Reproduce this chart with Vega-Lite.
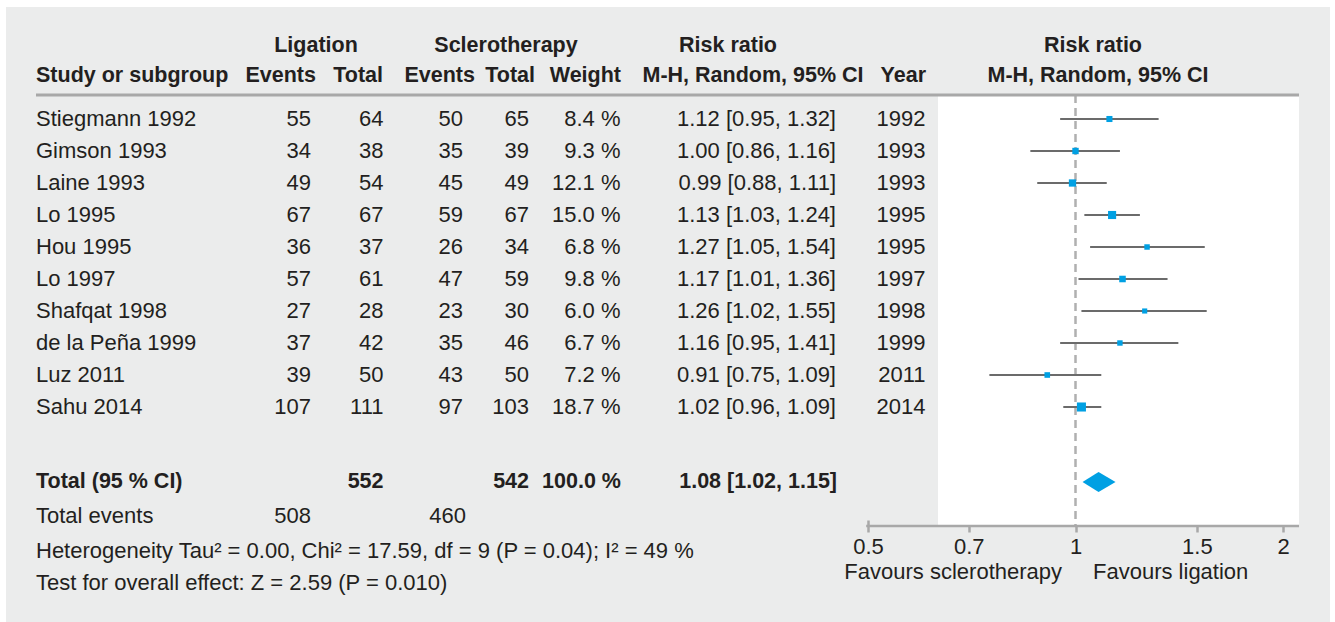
{
  "$schema": "https://vega.github.io/schema/vega-lite/v6.json",
  "width": 1324,
  "height": 615,
  "autosize": {"type": "none"},
  "padding": {"left": 6, "top": 7, "right": 5, "bottom": 0},
  "background": "#ffffff",
  "config": {
    "view": {"fill": "#ebecec", "stroke": null},
    "text": {"font": "Liberation Sans", "fontSize": 22, "color": "#231f20", "baseline": "middle"}
  },
  "datasets": {
    "studies": [
      {"study": "Stiegmann 1992", "le": 55, "lt": 64, "se": 50, "st": 65, "w": 8.4, "weight": "8.4 %", "rr": 1.12, "lo": 0.95, "hi": 1.32, "ci": "1.12 [0.95, 1.32]", "year": 1992},
      {"study": "Gimson 1993", "le": 34, "lt": 38, "se": 35, "st": 39, "w": 9.3, "weight": "9.3 %", "rr": 1.00, "lo": 0.86, "hi": 1.16, "ci": "1.00 [0.86, 1.16]", "year": 1993},
      {"study": "Laine 1993", "le": 49, "lt": 54, "se": 45, "st": 49, "w": 12.1, "weight": "12.1 %", "rr": 0.99, "lo": 0.88, "hi": 1.11, "ci": "0.99 [0.88, 1.11]", "year": 1993},
      {"study": "Lo 1995", "le": 67, "lt": 67, "se": 59, "st": 67, "w": 15.0, "weight": "15.0 %", "rr": 1.13, "lo": 1.03, "hi": 1.24, "ci": "1.13 [1.03, 1.24]", "year": 1995},
      {"study": "Hou 1995", "le": 36, "lt": 37, "se": 26, "st": 34, "w": 6.8, "weight": "6.8 %", "rr": 1.27, "lo": 1.05, "hi": 1.54, "ci": "1.27 [1.05, 1.54]", "year": 1995},
      {"study": "Lo 1997", "le": 57, "lt": 61, "se": 47, "st": 59, "w": 9.8, "weight": "9.8 %", "rr": 1.17, "lo": 1.01, "hi": 1.36, "ci": "1.17 [1.01, 1.36]", "year": 1997},
      {"study": "Shafqat 1998", "le": 27, "lt": 28, "se": 23, "st": 30, "w": 6.0, "weight": "6.0 %", "rr": 1.26, "lo": 1.02, "hi": 1.55, "ci": "1.26 [1.02, 1.55]", "year": 1998},
      {"study": "de la Peña 1999", "le": 37, "lt": 42, "se": 35, "st": 46, "w": 6.7, "weight": "6.7 %", "rr": 1.16, "lo": 0.95, "hi": 1.41, "ci": "1.16 [0.95, 1.41]", "year": 1999},
      {"study": "Luz 2011", "le": 39, "lt": 50, "se": 43, "st": 50, "w": 7.2, "weight": "7.2 %", "rr": 0.91, "lo": 0.75, "hi": 1.09, "ci": "0.91 [0.75, 1.09]", "year": 2011},
      {"study": "Sahu 2014", "le": 107, "lt": 111, "se": 97, "st": 103, "w": 18.7, "weight": "18.7 %", "rr": 1.02, "lo": 0.96, "hi": 1.09, "ci": "1.02 [0.96, 1.09]", "year": 2014}
    ],
    "pooled": [
      {"label": "Total (95 % CI)", "events": "Total events", "le": 508, "lt": 552, "se": 460, "st": 542, "weight": "100.0 %", "rr": 1.08, "lo": 1.02, "hi": 1.15, "ci": "1.08 [1.02, 1.15]"}
    ],
    "one": [{}]
  },
  "data": {"name": "studies"},
  "transform": [{"window": [{"op": "row_number", "as": "r"}]}],
  "resolve": {"scale": {"x": "independent"}},
  "layer": [
    {
      "layer": [
        {
          "data": {"name": "one"},
          "mark": {"type": "rect", "fill": "#ffffff"},
          "encoding": {
            "x": {"datum": 0.6317, "type": "quantitative", "scale": {"type": "log", "domain": [0.5, 2], "range": [862, 1277], "nice": false}},
            "x2": {"datum": 2.11},
            "y": {"datum": 0.25, "type": "quantitative", "scale": {"domain": [-2.5, 16.71875], "reverse": true, "nice": false, "zero": false}, "axis": null},
            "y2": {"datum": 13.71875}
          }
        },
        {
          "data": {"name": "one"},
          "mark": {"type": "rule", "color": "#b0b0b0", "strokeWidth": 2.5, "strokeDash": [8, 5]},
          "encoding": {
            "x": {"datum": 1, "type": "quantitative"},
            "y": {"datum": 0.25, "type": "quantitative", "axis": null},
            "y2": {"datum": 13.71875}
          }
        },
        {
          "data": {"name": "one"},
          "mark": {"type": "rule", "color": "#a8a8a8", "strokeWidth": 2.5},
          "encoding": {
            "x": {"datum": 0.497, "type": "quantitative"},
            "x2": {"datum": 2.11},
            "y": {"datum": 13.71875, "type": "quantitative", "axis": null}
          }
        },
        {
          "mark": {"type": "rule", "color": "#6b6b6b", "strokeWidth": 2},
          "encoding": {
            "x": {
              "field": "lo", "type": "quantitative",
              "axis": {
                "values": [0.5, 0.7, 1, 1.5, 2], "format": "~g", "domain": false, "grid": false,
                "tickColor": "#a8a8a8", "tickWidth": 2.5, "tickSize": 12, "offset": -102,
                "labelFont": "Liberation Sans", "labelFontSize": 22, "labelColor": "#231f20",
                "labelPadding": 4, "labelFlush": false, "labelOverlap": false, "title": null
              }
            },
            "x2": {"field": "hi"},
            "y": {"field": "r", "type": "quantitative", "axis": null}
          }
        },
        {
          "mark": {"type": "square", "color": "#00a0e3", "opacity": 1},
          "encoding": {
            "x": {"field": "rr", "type": "quantitative"},
            "y": {"field": "r", "type": "quantitative", "axis": null},
            "size": {"field": "w", "type": "quantitative", "scale": {"domain": [0, 18.7], "range": [0, 82]}, "legend": null}
          }
        },
        {
          "data": {"name": "pooled"},
          "mark": {"type": "point", "shape": "M-1.6,0L0,-1L1.7,0L0,1Z", "filled": true, "size": 400, "color": "#00a0e3", "opacity": 1, "strokeWidth": 0},
          "encoding": {
            "x": {"field": "rr", "type": "quantitative"},
            "y": {"datum": 12.34375, "type": "quantitative", "axis": null}
          }
        },
        {
          "data": {"name": "one"},
          "mark": {"type": "text", "align": "right"},
          "encoding": {
            "x": {"datum": 0.956, "type": "quantitative"},
            "y": {"datum": 15.15625, "type": "quantitative", "axis": null},
            "text": {"value": "Favours sclerotherapy"}
          }
        },
        {
          "data": {"name": "one"},
          "mark": {"type": "text", "align": "left"},
          "encoding": {
            "x": {"datum": 1.0603, "type": "quantitative"},
            "y": {"datum": 15.15625, "type": "quantitative", "axis": null},
            "text": {"value": "Favours ligation"}
          }
        }
      ]
    },
    {
      "layer": [
        {
          "data": {"name": "one"},
          "mark": {"type": "rule", "color": "#a8a8a8", "strokeWidth": 3},
          "encoding": {
            "x": {"datum": 30, "type": "quantitative", "scale": {"domain": [0, 1324], "nice": false, "zero": false}, "axis": null},
            "x2": {"datum": 1293},
            "y": {"datum": 0.25, "type": "quantitative", "axis": null}
          }
        },
        {"data": {"name": "one"}, "mark": {"type": "text", "align": "center", "fontWeight": "bold", "fontSize": 21.5},
         "encoding": {"x": {"datum": 310, "type": "quantitative", "axis": null}, "y": {"datum": -1.28125, "type": "quantitative", "axis": null}, "text": {"value": "Ligation"}}},
        {"data": {"name": "one"}, "mark": {"type": "text", "align": "center", "fontWeight": "bold", "fontSize": 21.5},
         "encoding": {"x": {"datum": 500, "type": "quantitative", "axis": null}, "y": {"datum": -1.28125, "type": "quantitative", "axis": null}, "text": {"value": "Sclerotherapy"}}},
        {"data": {"name": "one"}, "mark": {"type": "text", "align": "center", "fontWeight": "bold", "fontSize": 21.5},
         "encoding": {"x": {"datum": 722, "type": "quantitative", "axis": null}, "y": {"datum": -1.28125, "type": "quantitative", "axis": null}, "text": {"value": "Risk ratio"}}},
        {"data": {"name": "one"}, "mark": {"type": "text", "align": "center", "fontWeight": "bold", "fontSize": 21.5},
         "encoding": {"x": {"datum": 1087, "type": "quantitative", "axis": null}, "y": {"datum": -1.28125, "type": "quantitative", "axis": null}, "text": {"value": "Risk ratio"}}},
        {"data": {"name": "one"}, "mark": {"type": "text", "align": "left", "fontWeight": "bold", "fontSize": 21.5},
         "encoding": {"x": {"datum": 30, "type": "quantitative", "axis": null}, "y": {"datum": -0.34375, "type": "quantitative", "axis": null}, "text": {"value": "Study or subgroup"}}},
        {"data": {"name": "one"}, "mark": {"type": "text", "align": "right", "fontWeight": "bold", "fontSize": 21.5},
         "encoding": {"x": {"datum": 310, "type": "quantitative", "axis": null}, "y": {"datum": -0.34375, "type": "quantitative", "axis": null}, "text": {"value": "Events"}}},
        {"data": {"name": "one"}, "mark": {"type": "text", "align": "right", "fontWeight": "bold", "fontSize": 21.5},
         "encoding": {"x": {"datum": 377, "type": "quantitative", "axis": null}, "y": {"datum": -0.34375, "type": "quantitative", "axis": null}, "text": {"value": "Total"}}},
        {"data": {"name": "one"}, "mark": {"type": "text", "align": "right", "fontWeight": "bold", "fontSize": 21.5},
         "encoding": {"x": {"datum": 469, "type": "quantitative", "axis": null}, "y": {"datum": -0.34375, "type": "quantitative", "axis": null}, "text": {"value": "Events"}}},
        {"data": {"name": "one"}, "mark": {"type": "text", "align": "right", "fontWeight": "bold", "fontSize": 21.5},
         "encoding": {"x": {"datum": 529, "type": "quantitative", "axis": null}, "y": {"datum": -0.34375, "type": "quantitative", "axis": null}, "text": {"value": "Total"}}},
        {"data": {"name": "one"}, "mark": {"type": "text", "align": "right", "fontWeight": "bold", "fontSize": 21.5},
         "encoding": {"x": {"datum": 615, "type": "quantitative", "axis": null}, "y": {"datum": -0.34375, "type": "quantitative", "axis": null}, "text": {"value": "Weight"}}},
        {"data": {"name": "one"}, "mark": {"type": "text", "align": "center", "fontWeight": "bold", "fontSize": 21.5},
         "encoding": {"x": {"datum": 747, "type": "quantitative", "axis": null}, "y": {"datum": -0.34375, "type": "quantitative", "axis": null}, "text": {"value": "M-H, Random, 95% CI"}}},
        {"data": {"name": "one"}, "mark": {"type": "text", "align": "right", "fontWeight": "bold", "fontSize": 21.5},
         "encoding": {"x": {"datum": 920, "type": "quantitative", "axis": null}, "y": {"datum": -0.34375, "type": "quantitative", "axis": null}, "text": {"value": "Year"}}},
        {"data": {"name": "one"}, "mark": {"type": "text", "align": "center", "fontWeight": "bold", "fontSize": 21.5},
         "encoding": {"x": {"datum": 1092, "type": "quantitative", "axis": null}, "y": {"datum": -0.34375, "type": "quantitative", "axis": null}, "text": {"value": "M-H, Random, 95% CI"}}},
        {"mark": {"type": "text", "align": "left"},
         "encoding": {"x": {"datum": 30, "type": "quantitative", "axis": null}, "y": {"field": "r", "type": "quantitative", "axis": null}, "text": {"field": "study", "type": "nominal"}}},
        {"mark": {"type": "text", "align": "right"},
         "encoding": {"x": {"datum": 305, "type": "quantitative", "axis": null}, "y": {"field": "r", "type": "quantitative", "axis": null}, "text": {"field": "le", "type": "nominal"}}},
        {"mark": {"type": "text", "align": "right"},
         "encoding": {"x": {"datum": 377.5, "type": "quantitative", "axis": null}, "y": {"field": "r", "type": "quantitative", "axis": null}, "text": {"field": "lt", "type": "nominal"}}},
        {"mark": {"type": "text", "align": "right"},
         "encoding": {"x": {"datum": 457, "type": "quantitative", "axis": null}, "y": {"field": "r", "type": "quantitative", "axis": null}, "text": {"field": "se", "type": "nominal"}}},
        {"mark": {"type": "text", "align": "right"},
         "encoding": {"x": {"datum": 523, "type": "quantitative", "axis": null}, "y": {"field": "r", "type": "quantitative", "axis": null}, "text": {"field": "st", "type": "nominal"}}},
        {"mark": {"type": "text", "align": "right"},
         "encoding": {"x": {"datum": 614.5, "type": "quantitative", "axis": null}, "y": {"field": "r", "type": "quantitative", "axis": null}, "text": {"field": "weight", "type": "nominal"}}},
        {"mark": {"type": "text", "align": "right"},
         "encoding": {"x": {"datum": 830, "type": "quantitative", "axis": null}, "y": {"field": "r", "type": "quantitative", "axis": null}, "text": {"field": "ci", "type": "nominal"}}},
        {"mark": {"type": "text", "align": "right"},
         "encoding": {"x": {"datum": 919.5, "type": "quantitative", "axis": null}, "y": {"field": "r", "type": "quantitative", "axis": null}, "text": {"field": "year", "type": "nominal"}}},
        {"data": {"name": "pooled"}, "mark": {"type": "text", "align": "left", "fontWeight": "bold", "fontSize": 21.5},
         "encoding": {"x": {"datum": 30, "type": "quantitative", "axis": null}, "y": {"datum": 12.34375, "type": "quantitative", "axis": null}, "text": {"field": "label", "type": "nominal"}}},
        {"data": {"name": "pooled"}, "mark": {"type": "text", "align": "right", "fontWeight": "bold", "fontSize": 21.5},
         "encoding": {"x": {"datum": 377.5, "type": "quantitative", "axis": null}, "y": {"datum": 12.34375, "type": "quantitative", "axis": null}, "text": {"field": "lt", "type": "nominal"}}},
        {"data": {"name": "pooled"}, "mark": {"type": "text", "align": "right", "fontWeight": "bold", "fontSize": 21.5},
         "encoding": {"x": {"datum": 523, "type": "quantitative", "axis": null}, "y": {"datum": 12.34375, "type": "quantitative", "axis": null}, "text": {"field": "st", "type": "nominal"}}},
        {"data": {"name": "pooled"}, "mark": {"type": "text", "align": "right", "fontWeight": "bold", "fontSize": 21.5},
         "encoding": {"x": {"datum": 615, "type": "quantitative", "axis": null}, "y": {"datum": 12.34375, "type": "quantitative", "axis": null}, "text": {"field": "weight", "type": "nominal"}}},
        {"data": {"name": "pooled"}, "mark": {"type": "text", "align": "right", "fontWeight": "bold", "fontSize": 21.5},
         "encoding": {"x": {"datum": 831, "type": "quantitative", "axis": null}, "y": {"datum": 12.34375, "type": "quantitative", "axis": null}, "text": {"field": "ci", "type": "nominal"}}},
        {"data": {"name": "pooled"}, "mark": {"type": "text", "align": "left"},
         "encoding": {"x": {"datum": 30, "type": "quantitative", "axis": null}, "y": {"datum": 13.40625, "type": "quantitative", "axis": null}, "text": {"field": "events", "type": "nominal"}}},
        {"data": {"name": "pooled"}, "mark": {"type": "text", "align": "right"},
         "encoding": {"x": {"datum": 305, "type": "quantitative", "axis": null}, "y": {"datum": 13.40625, "type": "quantitative", "axis": null}, "text": {"field": "le", "type": "nominal"}}},
        {"data": {"name": "pooled"}, "mark": {"type": "text", "align": "right"},
         "encoding": {"x": {"datum": 460, "type": "quantitative", "axis": null}, "y": {"datum": 13.40625, "type": "quantitative", "axis": null}, "text": {"field": "se", "type": "nominal"}}},
        {"data": {"name": "one"}, "mark": {"type": "text", "align": "left"},
         "encoding": {"x": {"datum": 30, "type": "quantitative", "axis": null}, "y": {"datum": 14.5, "type": "quantitative", "axis": null}, "text": {"value": "Heterogeneity Tau² = 0.00, Chi² = 17.59, df = 9 (P = 0.04); I² = 49 %"}}},
        {"data": {"name": "one"}, "mark": {"type": "text", "align": "left"},
         "encoding": {"x": {"datum": 30, "type": "quantitative", "axis": null}, "y": {"datum": 15.5, "type": "quantitative", "axis": null}, "text": {"value": "Test for overall effect: Z = 2.59 (P = 0.010)"}}}
      ]
    }
  ]
}
